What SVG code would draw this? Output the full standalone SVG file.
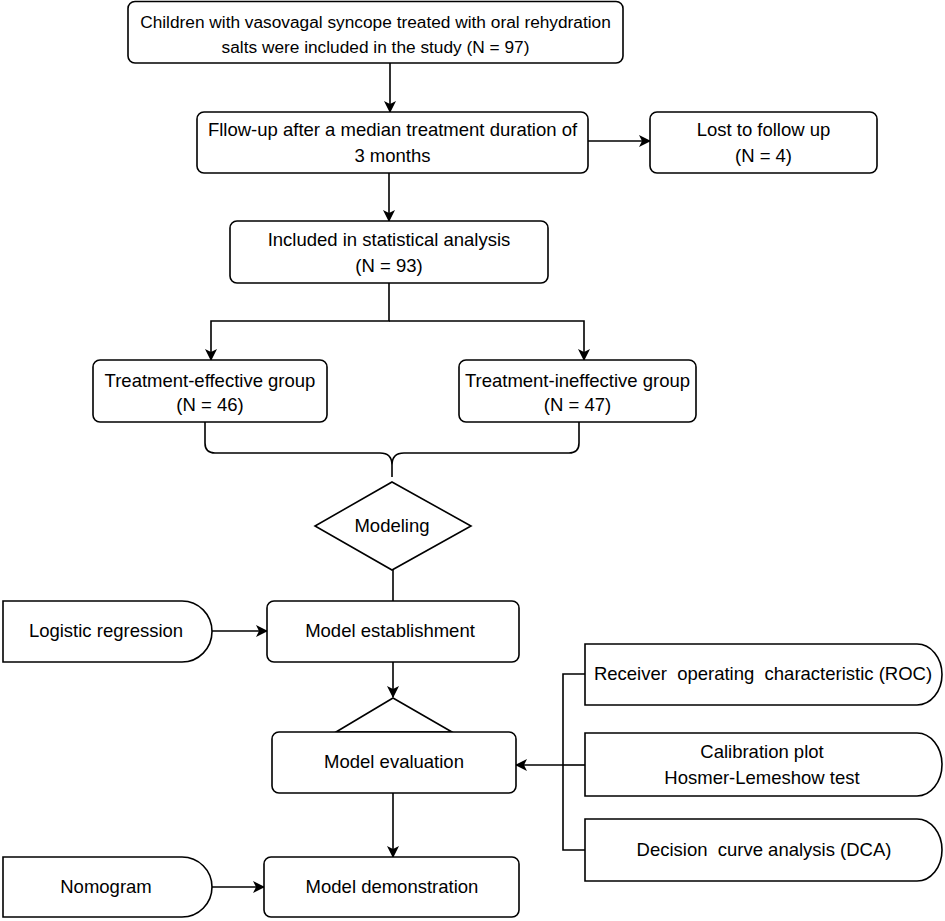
<svg xmlns="http://www.w3.org/2000/svg" width="945" height="921" viewBox="0 0 945 921">
<style>
.box{fill:#fff;stroke:#000;stroke-width:1.6}
.ln{fill:none;stroke:#000;stroke-width:1.6}
text{font-family:"Liberation Sans",Arial,sans-serif;font-size:18.5px;fill:#000;text-anchor:middle}
.sm{font-size:17.3px}
.pre{white-space:pre}
</style>
<defs>
<marker id="ah" markerWidth="12" markerHeight="12" refX="11" refY="6" orient="auto" markerUnits="userSpaceOnUse">
<path d="M0,0 L12,6 L0,12 L3,6 Z" fill="#000"/>
</marker>
</defs>
<rect width="945" height="921" fill="#fff"/>
<g id="connectors">
<line class="ln" x1="390" y1="63" x2="390" y2="112" marker-end="url(#ah)"/>
<line class="ln" x1="588" y1="141" x2="650" y2="141" marker-end="url(#ah)"/>
<line class="ln" x1="389" y1="173" x2="389" y2="221" marker-end="url(#ah)"/>
<polyline class="ln" points="389,283 389,321 211,321 211,360" marker-end="url(#ah)"/>
<polyline class="ln" points="389,321 584,321 584,360" marker-end="url(#ah)"/>
<path class="ln" d="M205,422 V443 Q205,453 215,453 H380 Q392,453 392,465 V477 M579,422 V443 Q579,453 569,453 H404 Q392,453 392,465"/>
<line class="ln" x1="393" y1="570" x2="393" y2="601"/>
<line class="ln" x1="212" y1="631" x2="267" y2="631" marker-end="url(#ah)"/>
<line class="ln" x1="393" y1="662" x2="393" y2="697" marker-end="url(#ah)"/>
<polyline class="ln" points="585,674 563,674 563,850 585,850"/>
<line class="ln" x1="585" y1="765" x2="563" y2="765"/>
<line class="ln" x1="563" y1="765" x2="516" y2="765" marker-end="url(#ah)"/>
<line class="ln" x1="393" y1="793" x2="393" y2="857" marker-end="url(#ah)"/>
<line class="ln" x1="212" y1="887" x2="264" y2="887" marker-end="url(#ah)"/>
</g>
<g id="n1"><rect class="box" x="128" y="1.5" width="495" height="61.5" rx="7"/>
<text class="sm" x="375.5" y="28">Children with vasovagal syncope treated with oral rehydration</text>
<text class="sm" x="375.5" y="53">salts were included in the study (N = 97)</text></g>
<g id="n2"><rect class="box" x="197" y="112" width="391" height="61" rx="7"/>
<text x="392.5" y="136">Fllow-up after a median treatment duration of</text>
<text x="392.5" y="162">3 months</text></g>
<g id="n3"><rect class="box" x="650" y="112" width="227" height="61" rx="7"/>
<text x="763.5" y="136">Lost to follow up</text>
<text x="763.5" y="162">(N = 4)</text></g>
<g id="n4"><rect class="box" x="230" y="221" width="318" height="62" rx="7"/>
<text x="389" y="246">Included in statistical analysis</text>
<text x="389" y="272">(N = 93)</text></g>
<g id="n5"><rect class="box" x="93" y="360" width="234" height="62" rx="7"/>
<text x="210" y="387">Treatment-effective group</text>
<text x="210" y="411">(N = 46)</text></g>
<g id="n6"><rect class="box" x="459" y="360" width="237" height="62" rx="7"/>
<text x="577.5" y="387">Treatment-ineffective group</text>
<text x="577.5" y="411">(N = 47)</text></g>
<g id="n7"><polygon class="box" points="392,482 471,526 392,570 315,526"/>
<text x="392" y="532">Modeling</text></g>
<g id="n8"><path class="box" d="M3,601 H182 A30,30.5 0 0 1 212,631.5 A30,30.5 0 0 1 182,662 H3 Z"/>
<text x="106" y="637">Logistic regression</text></g>
<g id="n9"><rect class="box" x="267" y="601" width="252" height="61" rx="7"/>
<text x="390" y="637">Model establishment</text></g>
<g id="n10"><polygon class="box" points="393,698 452,732 336,732"/>
<rect class="box" x="272" y="732" width="244" height="61" rx="7"/>
<text x="394" y="768">Model evaluation</text></g>
<g id="n11"><path class="box" d="M585,644 H917 A25,30.5 0 0 1 942,674.5 A25,30.5 0 0 1 917,705 H585 Z"/>
<text class="pre" x="763" y="680">Receiver  operating  characteristic (ROC)</text></g>
<g id="n12"><path class="box" d="M585,733 H917 A25,31.5 0 0 1 942,764.5 A25,31.5 0 0 1 917,796 H585 Z"/>
<text x="762" y="758">Calibration plot</text>
<text x="762" y="784">Hosmer-Lemeshow test</text></g>
<g id="n13"><path class="box" d="M585,819 H917 A25,31 0 0 1 942,850 A25,31 0 0 1 917,881 H585 Z"/>
<text class="pre" x="764" y="856">Decision  curve analysis (DCA)</text></g>
<g id="n14"><path class="box" d="M3,857 H182 A30,30 0 0 1 212,887 A30,30 0 0 1 182,917 H3 Z"/>
<text x="106" y="893">Nomogram</text></g>
<g id="n15"><rect class="box" x="264" y="857" width="255" height="60" rx="7"/>
<text x="392" y="893">Model demonstration</text></g>
</svg>
